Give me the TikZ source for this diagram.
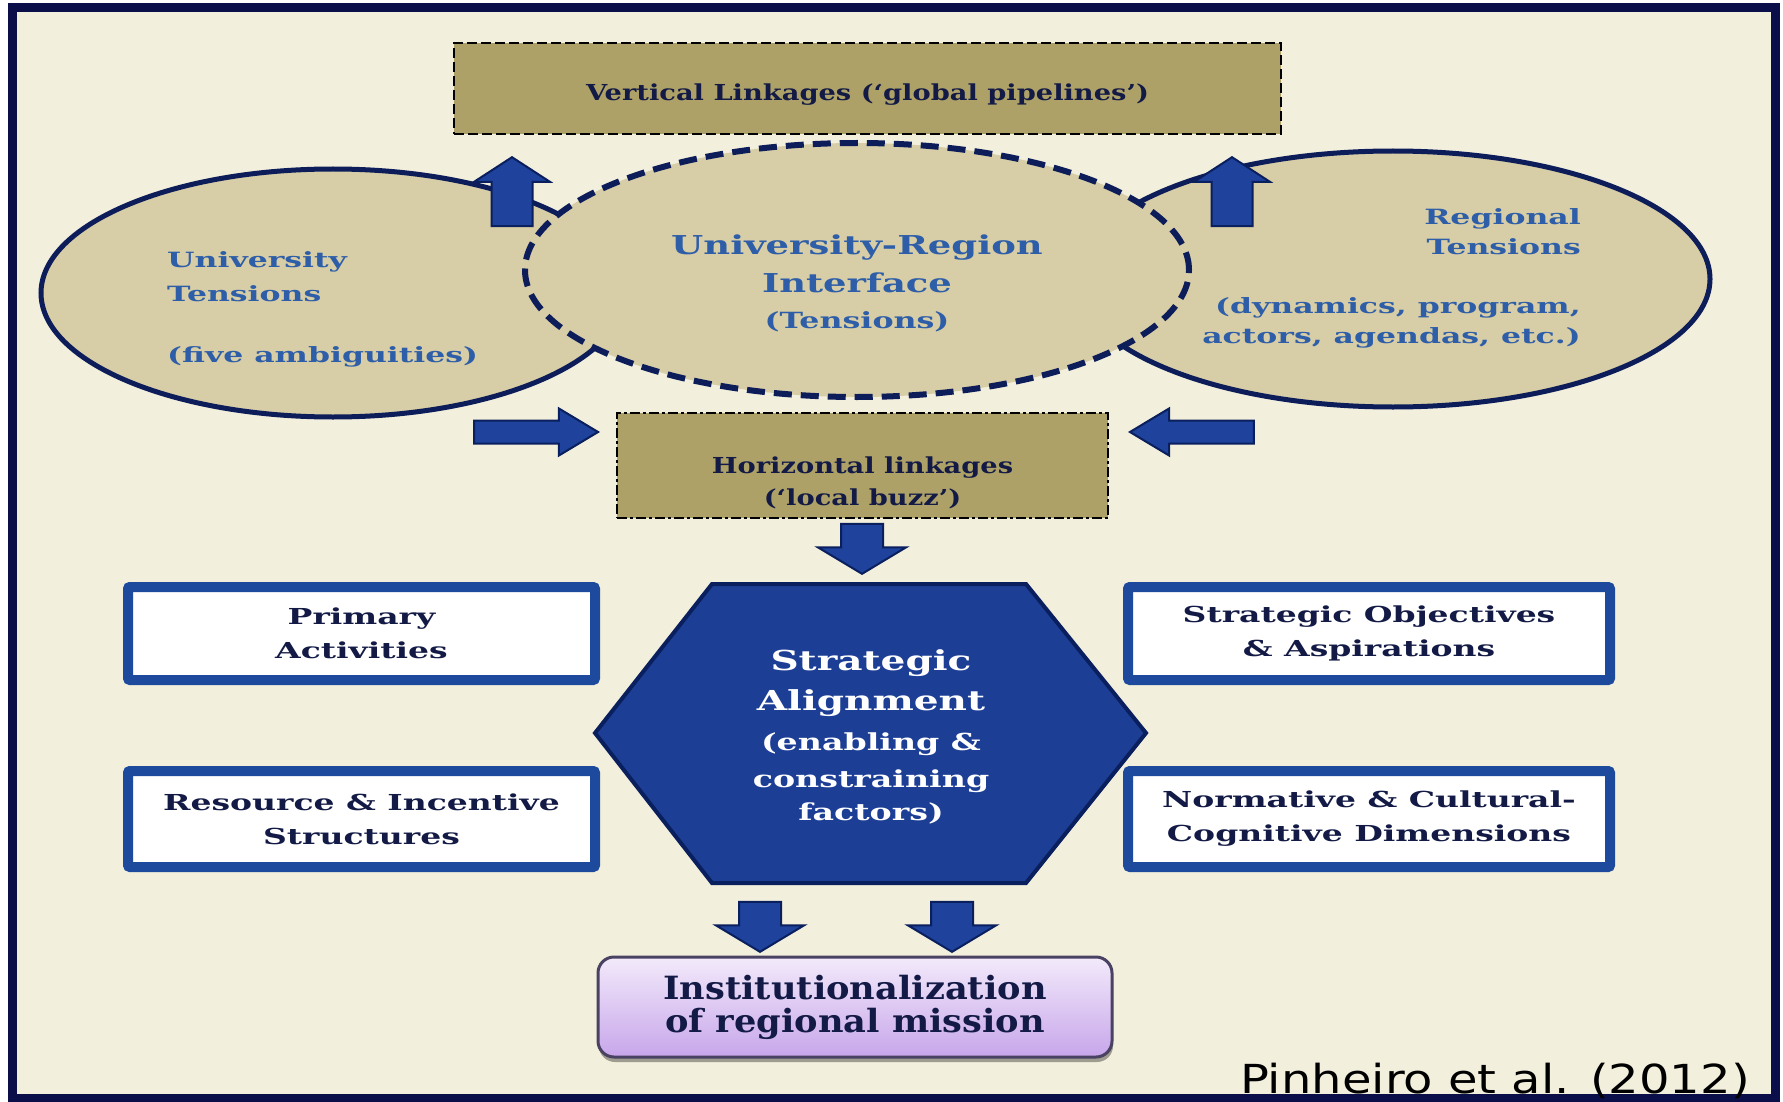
\documentclass[tikz,border=0pt]{standalone}
\usepackage{fontspec}
\setmainfont{DejaVu Serif}[FakeStretch=1.1]
\newfontfamily\linkfont{DejaVu Serif}[FakeStretch=1.24]
\newfontfamily\hubfont{DejaVu Serif}[FakeStretch=1.42]
\newfontfamily\widefont{DejaVu Serif}[FakeStretch=1.5]
\newfontfamily\citefont{DejaVu Sans}[FakeStretch=1.2]
\usetikzlibrary{shapes.geometric, shapes.arrows, shadows}
\definecolor{creamc}{HTML}{F3EFDD}
\definecolor{framec}{HTML}{0A0F4A}
\definecolor{olivec}{HTML}{AEA168}
\definecolor{tanc}{HTML}{D7CDA6}
\definecolor{navyc}{HTML}{0D1D5A}
\definecolor{bluetext}{HTML}{2E5EA8}
\definecolor{darktext}{HTML}{121A45}
\definecolor{arrowfill}{HTML}{1F429C}
\definecolor{arrowline}{HTML}{0A1F5E}
\definecolor{boxline}{HTML}{1D4A9C}
\definecolor{hexfill}{HTML}{1C3E95}
\definecolor{insttop}{HTML}{F3EAFB}
\definecolor{instbot}{HTML}{C7A6EA}
\definecolor{instline}{HTML}{4A4262}

\begin{document}
\begin{tikzpicture}[x=1pt,y=1pt]
\tikzstyle{every node}+=[inner sep=0pt]
\tikzstyle{olivebox}=[draw=black, fill=olivec, line width=2.5pt]
\tikzstyle{tensell}=[ellipse, draw=navyc, fill=tanc, line width=5pt]
\tikzstyle{whitebox}=[draw=boxline, fill=white, line width=10pt, rounded corners=2pt, text=darktext, align=center, font=\widefont\bfseries\fontsize{22}{34}\selectfont]
\tikzstyle{fatarrow}=[single arrow, draw=arrowline, fill=arrowfill, line width=2pt, single arrow head indent=0pt, inner xsep=0pt, anchor=tip]
\tikzstyle{uparrow}=[fatarrow, rotate=90, inner ysep=19.5pt, minimum height=69pt, minimum width=74pt, single arrow head extend=17.5pt, single arrow tip angle=114]
\tikzstyle{downarrow}=[fatarrow, rotate=-90, inner ysep=20pt, minimum height=50pt, minimum width=86pt, single arrow head extend=23pt, single arrow tip angle=118]
\tikzstyle{siderarrow}=[fatarrow, inner ysep=10.5pt, minimum height=124pt, minimum width=45pt, single arrow head extend=12pt, single arrow tip angle=62]
\useasboundingbox (0,0) rectangle (1783,-1102);
\fill [white] (0,0) rectangle (1783,-1102);
\draw [framec, fill=creamc, line width=9pt] (12,-8) rectangle (1775,-1098);
% top: global pipelines
\node [olivebox, dash pattern=on 10pt off 4pt, minimum width=827pt, minimum height=91pt] (vertical) at (867.5,-88.5) {};
\node [text=darktext, font=\linkfont\bfseries\fontsize{22}{30}\selectfont] (vertText) at (867.5,-94.5) {Vertical Linkages (‘global pipelines’)};
% tensions
\node [tensell, minimum width=584pt, minimum height=248pt] (univ) at (333,-293) {};
\node [tensell, minimum width=634pt, minimum height=256pt] (regn) at (1393,-279) {};
\node [tensell, dash pattern=on 18pt off 9pt, line width=6pt, minimum width=664pt, minimum height=254pt] (iface) at (857,-270) {};
\node [anchor=west, align=left, text=bluetext, font=\widefont\bfseries\fontsize{21}{34}\selectfont] (univText) at (167,-309) {University\\Tensions\\[27pt](five ambiguities)};
\node [anchor=east, align=right, text=bluetext, font=\widefont\bfseries\fontsize{21}{30}\selectfont] (regnText) at (1581,-278) {Regional\\Tensions\\[29pt](dynamics, program,\\actors, agendas, etc.)};
\node [align=center, text=bluetext, font=\hubfont\bfseries\fontsize{26}{38}\selectfont] (ifaceText) at (857,-283) {University-Region\\Interface\\[-2pt]{\fontsize{22.3}{30}\selectfont (Tensions)}};
\node [uparrow] (upL) at (512,-156) {};
\node [uparrow] (upR) at (1232,-156) {};
% local buzz
\node [olivebox, dash pattern=on 10pt off 3pt on 3pt off 3pt, minimum width=491pt, minimum height=105pt] (horiz) at (862.5,-465.5) {};
\node [align=center, text=darktext, font=\linkfont\bfseries\fontsize{22}{32}\selectfont] (horizText) at (862.5,-483) {Horizontal linkages\\(‘local buzz’)};
\node [siderarrow] (inL) at (600,-432) {};
\node [siderarrow, rotate=180] (inR) at (1128,-432) {};
\node [downarrow] (downH) at (862,-575) {};
% strategic alignment
\draw [arrowline, fill=hexfill, line width=4pt] (712,-584) -- (1026,-584) -- (1146,-733) -- (1026,-883) -- (712,-883) -- (595,-733) -- cycle;
\node [align=center, text=white, font=\hubfont\bfseries\fontsize{27.5}{40}\selectfont] (alignText) at (871,-737) {Strategic\\Alignment\\{\fontsize{23.4}{30}\selectfont (enabling \&}\\[-3pt]{\fontsize{23.4}{30}\selectfont constraining}\\[-7pt]{\fontsize{23.4}{30}\selectfont factors)}};
\node [whitebox, minimum width=467pt, minimum height=93pt] (primary) at (361.5,-633.5) {Primary\\Activities};
\node [whitebox, minimum width=467pt, minimum height=96pt] (resource) at (361.5,-819) {Resource \& Incentive\\Structures};
\node [whitebox, minimum width=482pt, minimum height=93pt] (objectives) at (1369,-633.5) {Strategic Objectives\\\& Aspirations};
\node [whitebox, minimum width=482pt, minimum height=96pt] (normative) at (1369,-819) {Normative \& Cultural-\\Cognitive Dimensions};
\node [downarrow] (downA) at (760,-953) {};
\node [downarrow] (downB) at (952,-953) {};
% mission
\node [draw=instline, line width=3pt, rounded corners=16pt, top color=insttop, bottom color=instbot, drop shadow={shadow xshift=1pt, shadow yshift=-5pt, fill=black, opacity=0.35}, minimum width=514pt, minimum height=100pt, align=center, text=darktext, font=\bfseries\fontsize{32}{33}\selectfont] (mission) at (855,-1007) {Institutionalization\\of regional mission};
\node [anchor=base east, font=\citefont\fontsize{40}{48}\selectfont] (cite) at (1750,-1093) {Pinheiro et al. (2012)};
\end{tikzpicture}
\end{document}
